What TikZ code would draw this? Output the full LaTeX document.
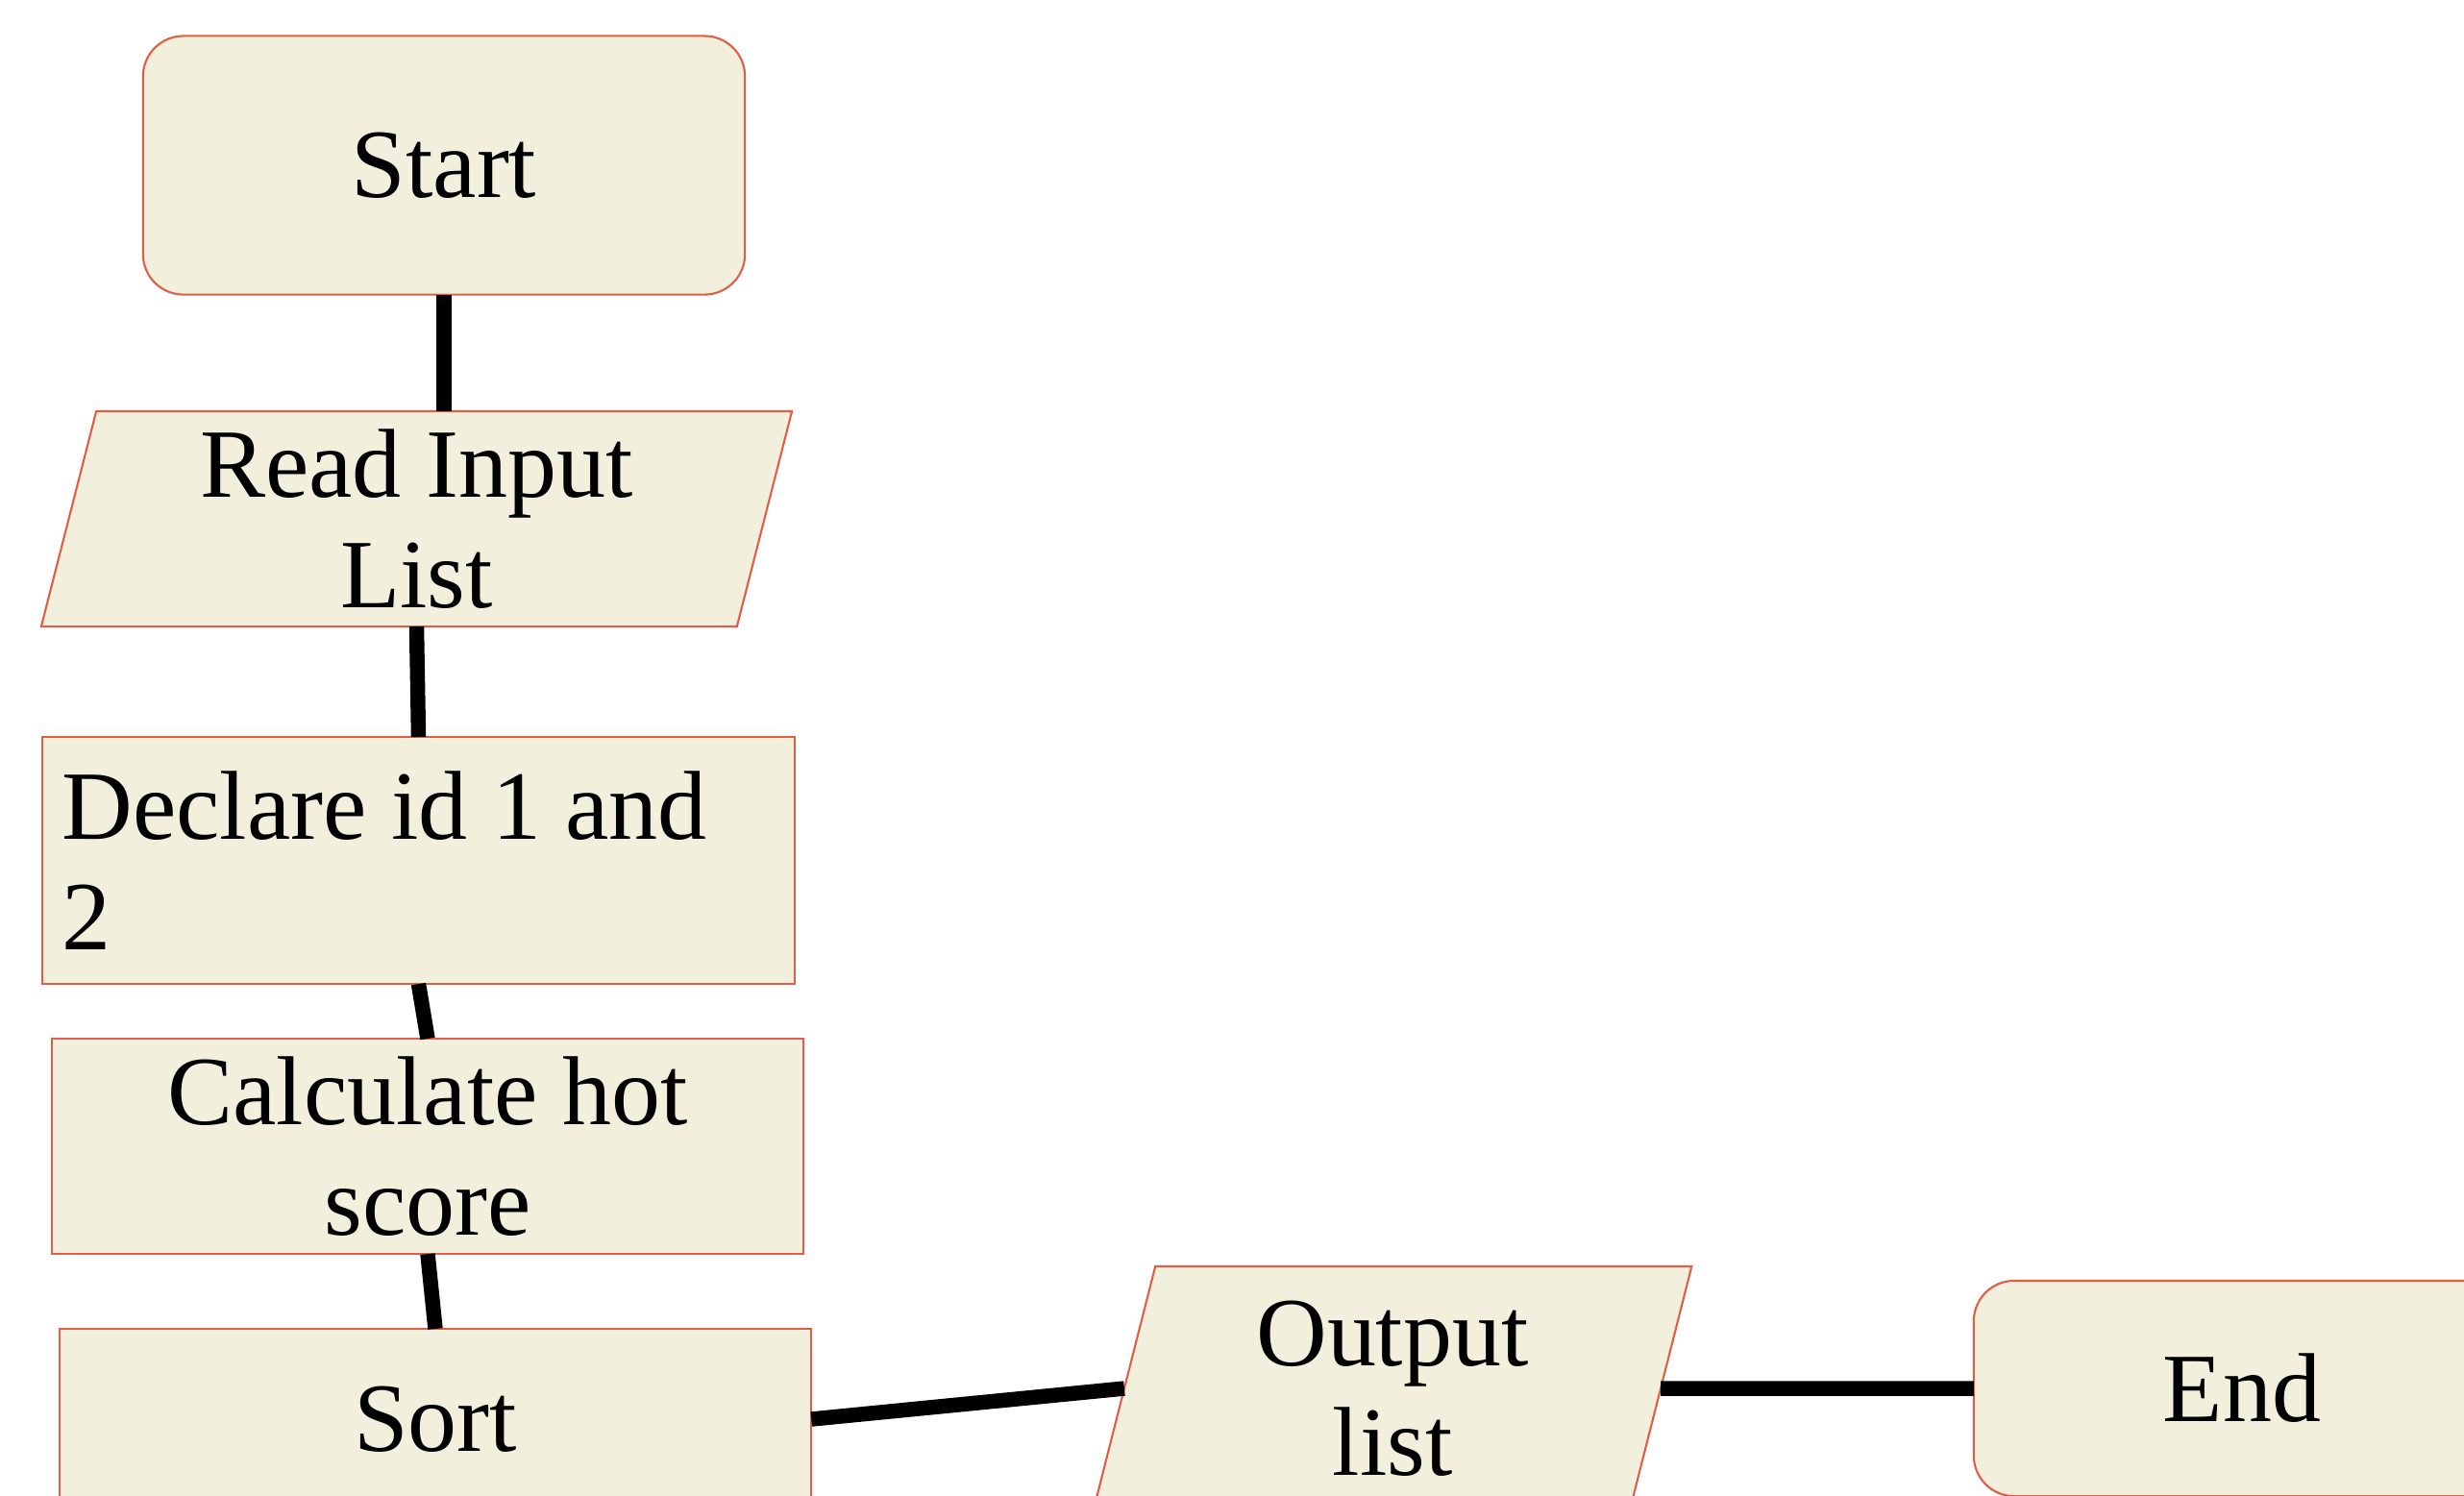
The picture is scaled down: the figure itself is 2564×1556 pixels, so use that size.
\documentclass[tikz,border=0pt]{standalone}
\usepackage{fontspec}
\setmainfont{Liberation Serif}
\usetikzlibrary{shapes.geometric}
\definecolor{boxfill}{RGB}{242,240,220}
\definecolor{boxline}{RGB}{222,94,70}
\tikzset{%
  every node/.style={font=\fontsize{29}{32.5}\selectfont,outer sep=0pt},%
  flow box/.style={draw=boxline,fill=boxfill,line width=0.6pt},%
  terminal box/.style={flow box,rectangle,rounded corners=0.42cm,
    minimum width=#1,minimum height=2.24cm},%
  io box/.style={flow box,trapezium,trapezium left angle=79,
    trapezium right angle=101,trapezium stretches=true,align=center},%
  process box/.style={flow box,rectangle,minimum width=7.82cm,align=center},%
  link/.style={line width=4.4pt,black}%
}

\begin{document}
\begin{tikzpicture}[x=0.01cm,y=-0.01cm]
	\useasboundingbox (0,0) rectangle (2564,1556);
	\clip (0,0) rectangle (2564,1556);
	
	%% left column
	\node[terminal box=6.26cm,minimum height=2.69cm] (start) at (462,172) {Start};
	\node[io box,minimum width=7.81cm,minimum height=2.24cm] (read) at (433.5,540) {Read Input\\List};
	\node[flow box,rectangle,minimum height=2.57cm,inner xsep=0.21cm,
	  text width=7.41cm,align=flush left] (declare) at (435.5,895.5) {Declare id 1 and\\2};
	\node[process box,minimum height=2.24cm] (calc) at (445,1193) {Calculate hot\\score};
	\node[process box,minimum height=1.88cm] (sort) at (453,1477) {Sort};
	
	%% bottom row
	\node[io box,minimum width=6.23cm,minimum height=2.54cm] (output) at (1449,1445) {Output\\list};
	\node[terminal box=5.58cm] (end) at (2333,1445) {End};
	
	%% connectors
	\draw[link] (start.south) -- (start.south |- read.north);
	\draw[link] (read.center |- read.south) -- (declare.north);
	\draw[link] (declare.south) -- (calc.north);
	\draw[link] (calc.south) -- (sort.north);
	\draw[link] (sort.east) -- (output.west);
	\draw[link] (output.east) -- (end.west);
\end{tikzpicture}
\end{document}
